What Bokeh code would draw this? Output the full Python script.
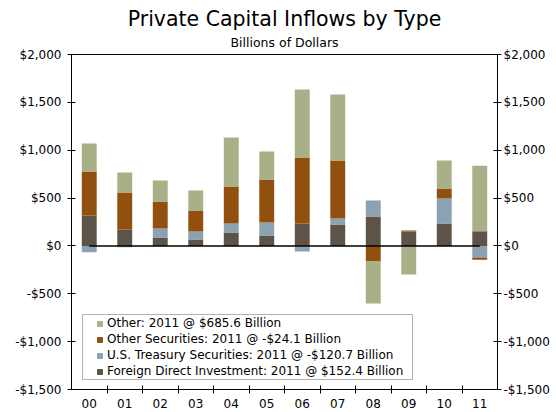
from bokeh.plotting import figure
from bokeh.models import (ColumnDataSource, FixedTicker, LinearAxis, Legend,
                          LegendItem, Title, BoxAnnotation, Range1d)
from bokeh.embed import file_html
from bokeh.resources import INLINE

# ---------------- data ----------------
years = ["00", "01", "02", "03", "04", "05", "06", "07", "08", "09", "10", "11"]
fdi = [318, 171, 88, 67, 140, 109, 234, 224, 307, 150, 234, 152.4]
treasury = [-66, -13, 94, 83, 94, 136, -59, 62, 167, 0, 261, -120.7]
other_sec = [459, 387, 282, 220, 387, 449, 690, 607, -163, 11, 105, -24.1]
other = [293, 209, 219, 209, 512, 293, 710, 688, -439, -299, 293, 685.6]

series_keys = ["fdi", "tr", "os", "ot"]
series_labels = [
    "Foreign Direct Investment: 2011 @ $152.4 Billion",
    "U.S. Treasury Securities: 2011 @ -$120.7 Billion",
    "Other Securities: 2011 @ -$24.1 Billion",
    "Other: 2011 @ $685.6 Billion",
]
series_colors = ["#5D5348", "#8AA2B2", "#92500F", "#A9AF86"]

y_ticks = [-1500, -1000, -500, 0, 500, 1000, 1500, 2000]
y_tick_labels = ["-$1,500", "-$1,000", "-$500", "$0", "$500", "$1,000", "$1,500", "$2,000"]

title_text = "Private Capital Inflows by Type"
subtitle_text = "Billions of Dollars"

FONT = "DejaVu Sans"

# ---------------- source ----------------
values = [fdi, treasury, other_sec, other]
data = {"x": [i + 0.5 for i in range(len(years))]}
for k, v in zip(series_keys, values):
    data[k + "_p"] = [max(a, 0) for a in v]
    data[k + "_n"] = [min(a, 0) for a in v]
src = ColumnDataSource(data)

W, H = 556, 412
ML, MR, MT, MB = 71, 59, 54, 23
p = figure(width=W, height=H,
           x_range=Range1d(0, len(years)), y_range=Range1d(y_ticks[0], y_ticks[-1]),
           output_backend="svg", toolbar_location=None,
           min_border_left=ML, min_border_right=MR,
           min_border_top=MT, min_border_bottom=MB)

p.xgrid.visible = False
p.ygrid.visible = False
p.outline_line_color = "black"
p.outline_line_width = 1
p.outline_line_alpha = 1
p.background_fill_color = "white"
p.border_fill_color = "white"

pos = p.vbar_stack([k + "_p" for k in series_keys], x="x", width=0.42,
                   color=series_colors, line_color=None, source=src)
neg = p.vbar_stack([k + "_n" for k in series_keys], x="x", width=0.42,
                   color=series_colors, line_color=None, source=src)

# zero line from first to last category centre
p.line(x=[data["x"][0], data["x"][-1]], y=[0, 0], line_color="black", line_width=1.5)

# ---------------- axes ----------------
overrides_y = {t: l for t, l in zip(y_ticks, y_tick_labels)}

def style_axis(ax):
    ax.axis_line_color = "black"
    ax.axis_line_width = 1
    ax.major_tick_line_color = "black"
    ax.major_tick_in = 4
    ax.major_tick_out = 4
    ax.minor_tick_line_color = None
    ax.major_label_text_font = FONT
    ax.major_label_text_font_size = "12px"
    ax.major_label_text_color = "black"

yl = p.yaxis[0]
yl.ticker = FixedTicker(ticks=y_ticks)
yl.major_label_overrides = overrides_y
style_axis(yl)
yl.major_label_standoff = 6

yr = LinearAxis(ticker=FixedTicker(ticks=y_ticks), major_label_overrides=overrides_y)
style_axis(yr)
yr.major_label_standoff = 2
p.add_layout(yr, "right")

xa = p.xaxis[0]
centers = data["x"]
xa.ticker = FixedTicker(ticks=centers, minor_ticks=list(range(1, len(years))))
xa.major_label_overrides = {c: y for c, y in zip(centers, years)}
style_axis(xa)
xa.major_tick_line_color = None
xa.minor_tick_line_color = "black"
xa.minor_tick_in = 4
xa.minor_tick_out = 4
xa.major_label_standoff = 5

# ---------------- titles ----------------
p.add_layout(Title(text=subtitle_text, align="center", text_font=FONT,
                   text_font_size="12.5px", text_font_style="normal",
                   text_color="black", standoff=9), "above")
p.add_layout(Title(text=title_text, align="center", text_font=FONT,
                   text_font_size="20.5px", text_font_style="normal",
                   text_color="black", standoff=-5), "above")

# ---------------- legend ----------------
box = BoxAnnotation(left=11, right=341, bottom=10, top=75,
                    left_units="screen", right_units="screen",
                    bottom_units="screen", top_units="screen",
                    fill_color="white", fill_alpha=1,
                    line_color="black", line_width=1, level="annotation")
p.add_layout(box)

items = [LegendItem(label=series_labels[k], renderers=[pos[k], neg[k]])
         for k in reversed(range(len(series_keys)))]
legend = Legend(items=items, location=(25, 10), padding=0, margin=0,
                border_line_color=None, background_fill_alpha=0,
                glyph_width=7, glyph_height=7, label_standoff=4,
                label_height=16, spacing=0,
                label_text_font=FONT, label_text_font_size="12px",
                label_text_color="black")
p.add_layout(legend, "center")

open("out.html", "w").write(file_html(p, INLINE))
